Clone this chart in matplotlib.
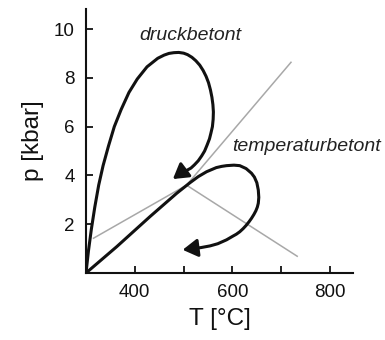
import matplotlib
matplotlib.use("Agg")
import matplotlib.pyplot as plt

plt.rcParams['font.family'] = ['Liberation Sans', 'DejaVu Sans']

# pressure-dominated path (T in degC, p in kbar)
druck_T = [300, 305, 311, 318, 326, 335, 346, 358, 372, 388, 405, 425, 447,
           460, 470, 480, 490, 500, 508, 517, 525, 533, 540, 546, 551, 555,
           558, 560, 561, 560.5, 559, 556, 553, 548, 543, 537, 530, 522, 515,
           506, 498]
druck_p = [0, 0.9, 1.8, 2.7, 3.6, 4.4, 5.2, 6.0, 6.7, 7.4, 7.95, 8.45, 8.8,
           8.93, 9.0, 9.03, 9.04, 9.01, 8.95, 8.84, 8.7, 8.52, 8.3, 8.06, 7.8,
           7.5, 7.2, 6.9, 6.6, 6.3, 6.0, 5.74, 5.5, 5.24, 5.0, 4.8, 4.6, 4.43,
           4.3, 4.2, 4.15]
druck_tip = (478, 3.85)

# temperature-dominated path
temp_T = [300, 363, 431, 486, 513, 530, 547, 567, 578, 588, 603, 615, 628,
          639, 645, 650, 653, 654, 653, 651, 648, 644, 639, 634, 628, 622, 615,
          608, 600, 588, 570, 554, 535, 522]
temp_p = [0, 1.08, 2.31, 3.27, 3.70, 3.95, 4.15, 4.32, 4.37, 4.40, 4.42,
          4.40, 4.28, 4.09, 3.93, 3.7, 3.40, 3.1, 2.86, 2.7, 2.55, 2.4, 2.24,
          2.1, 1.95, 1.82, 1.69, 1.59, 1.50, 1.36, 1.2, 1.11, 1.04, 1.01]
temp_tip = (498, 0.95)

# reaction lines meeting at the triple point
triple = (506, 3.6)
line_ends = [(314, 1.41), (721, 8.66), (734, 0.67)]

fig = plt.figure(figsize=(3.85, 3.4), dpi=100)
ax = fig.add_axes([86/385, 67/340, 267/385, 264/340])

for T_end, p_end in line_ends:
    ax.plot([triple[0], T_end], [triple[1], p_end], color='#a8a8a8', lw=1.1,
            solid_capstyle='butt')

ax.plot(druck_T, druck_p, color='#111111', lw=2.2, solid_capstyle='butt',
        solid_joinstyle='round')
ax.plot(temp_T, temp_p, color='#111111', lw=2.2, solid_capstyle='butt',
        solid_joinstyle='round')

arrow = dict(arrowstyle='-|>,head_length=0.45,head_width=0.27',
             mutation_scale=20, color='#111111', lw=2.2,
             shrinkA=0, shrinkB=0)
ax.annotate('', xy=druck_tip, xytext=(druck_T[-1], druck_p[-1]),
            arrowprops=arrow)
ax.annotate('', xy=temp_tip, xytext=(temp_T[-1], temp_p[-1]),
            arrowprops=arrow)

ax.text(513, 9.75, 'druckbetont', style='italic', fontsize=14,
        ha='center', va='center', color='#222222')
ax.text(599, 5.18, 'temperaturbetont', style='italic', fontsize=14,
        ha='left', va='center', color='#222222', clip_on=False)

ax.set_xlim(300, 847)
ax.set_ylim(0, 10.82)
ax.set_xticks([400, 500, 600, 700, 800])
ax.set_xticklabels(['400', '', '600', '', '800'])
ax.set_yticks([2, 4, 6, 8, 10])
ax.tick_params(direction='in', length=5, width=1.3, labelsize=13.5, pad=8,
               colors='#111111')

for side in ['top', 'right']:
    ax.spines[side].set_visible(False)
for side in ['left', 'bottom']:
    ax.spines[side].set_linewidth(1.5)
    ax.spines[side].set_color('#111111')

ax.set_xlabel('T [°C]', fontsize=17.5, labelpad=5, color='#111111')
ax.set_ylabel('p [kbar]', fontsize=17.5, labelpad=7, color='#111111')

fig.savefig('out.png', dpi=100)
